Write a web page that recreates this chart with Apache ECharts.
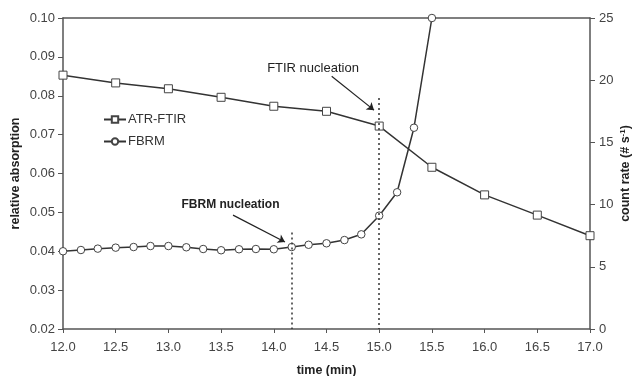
<!DOCTYPE html>
<html><head><meta charset="utf-8">
<script src="https://cdn.jsdelivr.net/npm/echarts@6/dist/echarts.min.js"></script>
<style>html,body{margin:0;padding:0;background:#fff}#c{width:634px;height:376px}</style>
</head><body><div id="c"></div>
<script>
// ATR-FTIR (relative absorption, left axis)
var ftirTime = [12.0, 12.5, 13.0, 13.5, 14.0, 14.5, 15.0, 15.5, 16.0, 16.5, 17.0];
var ftirValues = [0.0853, 0.0833, 0.0818, 0.0796, 0.0773, 0.0760, 0.0722, 0.0616, 0.0545, 0.0493, 0.0440];
// FBRM (count rate, right axis)
var fbrmTime = [12.00, 12.17, 12.33, 12.50, 12.67, 12.83, 13.00, 13.17, 13.33, 13.50, 13.67, 13.83, 14.00, 14.17, 14.33, 14.50, 14.67, 14.83, 15.00, 15.17, 15.33, 15.50];
var fbrmValues = [6.25, 6.35, 6.46, 6.54, 6.59, 6.67, 6.67, 6.57, 6.43, 6.33, 6.41, 6.43, 6.41, 6.59, 6.77, 6.89, 7.15, 7.61, 9.11, 10.99, 16.18, 25.0];
// nucleation markers (time, top of dotted line in relative absorption)
var fbrmNucleation = [14.17, 0.0448];
var ftirNucleation = [15.0, 0.0794];
// annotations: label position and arrow start/end (time, relative absorption)
var ftirLabel = {text: 'FTIR nucleation', at: [14.372, 0.0870], from: [14.549, 0.0850], to: [14.951, 0.0763]};
var fbrmLabel = {text: 'FBRM nucleation', at: [13.589, 0.0519], from: [13.613, 0.0493], to: [14.106, 0.0424]};
var xTicks = {min: 12, max: 17, interval: 0.5};
var leftTicks = {min: 0.02, max: 0.10, interval: 0.01};
var rightTicks = {min: 0, max: 25, interval: 5};

var FONT = '"Liberation Sans", Arial, sans-serif';
var lineCol = '#333';
var axisCol = '#555';
var labCol = '#444';

var chart = echarts.init(document.getElementById('c'), null, {renderer: 'canvas'});

function pairs(xs, ys) { return xs.map(function (x, i) { return [x, ys[i]]; }); }

var option = {
  animation: false,
  backgroundColor: '#fff',
  grid: {left: 63, right: 44, top: 18, bottom: 47, containLabel: false, outerBoundsMode: 'none'},
  legend: {
    orient: 'vertical', left: 98, top: 108, itemWidth: 22, itemHeight: 8, itemGap: 9,
    textStyle: {fontFamily: FONT, fontSize: 13, color: '#333', padding: [0, 0, 0, -3]},
    data: ['ATR-FTIR', 'FBRM']
  },
  xAxis: [{
    type: 'value', min: xTicks.min, max: xTicks.max, interval: xTicks.interval,
    name: 'time (min)', nameLocation: 'middle', nameGap: 35.5, nameMoveOverlap: false,
    nameTextStyle: {fontFamily: FONT, fontSize: 12.5, fontWeight: 'bold', color: '#222'},
    axisLine: {show: true, onZero: false, lineStyle: {color: axisCol, width: 1.5}},
    axisTick: {show: true, inside: false, length: 4, lineStyle: {color: axisCol}},
    axisLabel: {fontFamily: FONT, fontSize: 13, color: labCol, margin: 12,
      formatter: function (v) { return v.toFixed(1); }},
    splitLine: {show: false}
  }, {
    type: 'value', position: 'top', min: xTicks.min, max: xTicks.max, interval: xTicks.interval,
    axisLine: {show: true, onZero: false, lineStyle: {color: axisCol, width: 1.5}},
    axisTick: {show: false}, axisLabel: {show: false}, splitLine: {show: false}
  }],
  yAxis: [{
    type: 'value', position: 'left', min: leftTicks.min, max: leftTicks.max, interval: leftTicks.interval,
    name: 'relative absorption', nameLocation: 'middle', nameGap: 41, nameRotate: 90, nameMoveOverlap: false,
    nameTextStyle: {fontFamily: FONT, fontSize: 12.5, fontWeight: 'bold', color: '#222'},
    axisLine: {show: true, lineStyle: {color: axisCol, width: 1.5}},
    axisTick: {show: true, inside: false, length: 5, lineStyle: {color: axisCol}},
    axisLabel: {fontFamily: FONT, fontSize: 13, color: labCol, margin: 8,
      formatter: function (v) { return v.toFixed(2); }},
    splitLine: {show: false}
  }, {
    type: 'value', position: 'right', min: rightTicks.min, max: rightTicks.max, interval: rightTicks.interval,
    name: 'count rate (# s{sup|-1})', nameLocation: 'middle', nameGap: 29, nameRotate: 90, nameMoveOverlap: false,
    nameTextStyle: {fontFamily: FONT, fontSize: 12.5, fontWeight: 'bold', color: '#222',
      rich: {sup: {fontFamily: FONT, fontSize: 8, fontWeight: 'bold', color: '#222', verticalAlign: 'top', padding: [0, 0, 6, 0]}}},
    axisLine: {show: true, lineStyle: {color: axisCol, width: 1.5}},
    axisTick: {show: true, inside: false, length: 5, lineStyle: {color: axisCol}},
    axisLabel: {fontFamily: FONT, fontSize: 13, color: labCol, margin: 9},
    splitLine: {show: false}
  }],
  series: [{
    name: 'ATR-FTIR', type: 'line', yAxisIndex: 0,
    data: pairs(ftirTime, ftirValues),
    symbol: 'rect', symbolSize: 8,
    lineStyle: {color: lineCol, width: 1.5},
    itemStyle: {color: '#fff', borderColor: '#444', borderWidth: 1},
    markLine: {
      silent: true, symbol: ['none', 'none'], label: {show: false},
      lineStyle: {color: '#333', type: [2, 3], width: 1.5},
      data: [
        [{coord: [ftirNucleation[0], ftirNucleation[1]]}, {coord: [ftirNucleation[0], leftTicks.min]}],
        [{coord: [fbrmNucleation[0], fbrmNucleation[1]]}, {coord: [fbrmNucleation[0], leftTicks.min]}]
      ]
    },
    z: 3
  }, {
    name: 'FBRM', type: 'line', yAxisIndex: 1,
    data: pairs(fbrmTime, fbrmValues),
    symbol: 'circle', symbolSize: 7.5,
    lineStyle: {color: lineCol, width: 1.5},
    itemStyle: {color: '#fff', borderColor: '#444', borderWidth: 1},
    z: 4
  }, {
    name: 'arrows', type: 'line', yAxisIndex: 0, data: [], silent: true,
    markLine: {
      silent: true, symbol: ['none', 'arrow'], symbolSize: 7, label: {show: false},
      lineStyle: {color: '#222', type: 'solid', width: 1.2},
      data: [
        [{coord: ftirLabel.from}, {coord: ftirLabel.to}],
        [{coord: fbrmLabel.from}, {coord: fbrmLabel.to}]
      ]
    }
  }]
};
chart.setOption(option);

function place() {
  var a = chart.convertToPixel({xAxisIndex: 0, yAxisIndex: 0}, ftirLabel.at);
  var b = chart.convertToPixel({xAxisIndex: 0, yAxisIndex: 0}, fbrmLabel.at);
  chart.setOption({graphic: [
    {type: 'text', x: a[0], y: a[1], style: {text: ftirLabel.text, fontFamily: FONT, fontSize: 13, fill: '#222', align: 'center', verticalAlign: 'middle'}},
    {type: 'text', x: b[0], y: b[1], style: {text: fbrmLabel.text, fontFamily: FONT, fontSize: 12, fontWeight: 'bold', fill: '#222', align: 'center', verticalAlign: 'middle'}}
  ]});
}
place();
</script></body></html>
